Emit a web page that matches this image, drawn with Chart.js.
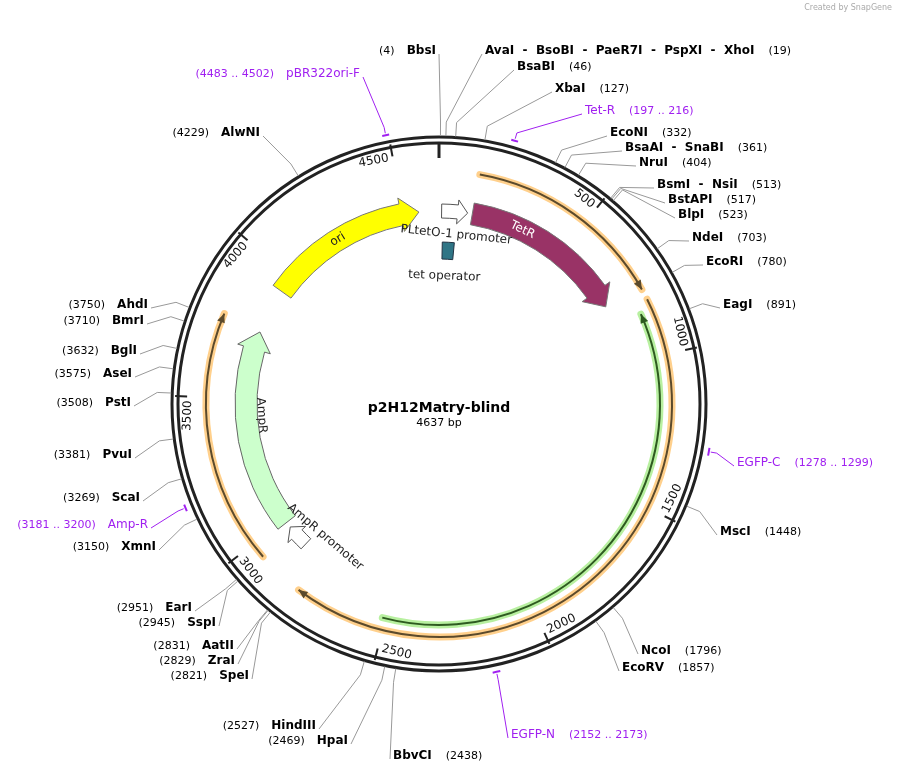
<!DOCTYPE html>
<html>
<head>
<meta charset="utf-8">
<script src="https://cdn.jsdelivr.net/npm/chart.js@4"></script>
<style>
  body { margin: 0; background: #fff; }
  #wrap { width: 897px; height: 775px; }
</style>
</head>
<body>
<div id="wrap"><canvas id="map" width="897" height="775"></canvas></div>
<script>
const plasmidName = "p2H12Matry-blind";
const plasmidLength = 4637;
const tickValues = [500, 1000, 1500, 2000, 2500, 3000, 3500, 4000, 4500];

// features: name, start, end, direction (1 cw, -1 ccw)
const featureNames = ["ori", "PLtetO-1 promoter", "TetR", "AmpR", "AmpR promoter"];
const featureStarts = [3936, 10, 128, 2990, 2880];
const featureEnds = [4560, 110, 770, 3760, 2968];
const featureDirs = [1, 1, 1, 1, 1];

const orfStarts = [130, 815, 2950];
const orfEnds = [780, 2796, 3772];
const orfDirs = [1, 1, 1];
const egfpStart = 850, egfpEnd = 2510;

const operatorStart = 15, operatorEnd = 70;

const enzymeNames = ["BbsI", "AvaI  -  BsoBI  -  PaeR7I  -  PspXI  -  XhoI", "BsaBI", "XbaI", "EcoNI",
  "BsaAI  -  SnaBI", "NruI", "BsmI  -  NsiI", "BstAPI", "BlpI", "NdeI", "EcoRI", "EagI", "MscI",
  "NcoI", "EcoRV", "BbvCI", "HindIII", "HpaI", "SpeI", "ZraI", "AatII", "SspI", "EarI", "XmnI",
  "ScaI", "PvuI", "PstI", "AseI", "BglI", "BmrI", "AhdI", "AlwNI"];
const enzymeSites = [4, 19, 46, 127, 332, 361, 404, 513, 517, 523, 703, 780, 891, 1448,
  1796, 1857, 2438, 2527, 2469, 2821, 2829, 2831, 2945, 2951, 3150,
  3269, 3381, 3508, 3575, 3632, 3710, 3750, 4229];

const primerNames = ["pBR322ori-F", "Tet-R", "EGFP-C", "EGFP-N", "Amp-R"];
const primerStarts = [4483, 197, 1278, 2152, 3181];
const primerEnds = [4502, 216, 1299, 2173, 3200];

// label layout: side ('R' = text starts at x, 'L' = text ends at x), x, y
const enzymeLabelSide = ["L", "R", "R", "R", "R", "R", "R", "R", "R", "R", "R", "R", "R", "R",
  "R", "R", "R", "L", "L", "L", "L", "L", "L", "L", "L", "L", "L", "L", "L", "L", "L", "L", "L"];
const enzymeLabelX = [436, 485, 517, 555, 610, 625, 639, 657, 668, 678, 692, 706, 723, 720,
  641, 622, 393, 316, 348, 249, 235, 234, 216, 192, 156, 140, 132, 131, 132, 137, 144, 148, 260];
const enzymeLabelY = [51, 51, 67, 89, 133, 148, 163, 185, 200, 215, 238, 262, 305, 532,
  651, 668, 756, 726, 741, 676, 661, 646, 623, 608, 547, 498, 455, 403, 374, 351, 321, 305, 133];
const primerLabelSide = ["L", "R", "R", "R", "L"];
const primerLabelX = [360, 585, 737, 511, 148];
const primerLabelY = [74, 111, 463, 735, 525];

const purple = "#a020f0";
const toRad = bp => bp / plasmidLength * Math.PI * 2;

const mapPlugin = {
  id: "plasmidMap",
  afterDraw(chart) {
    const ctx = chart.ctx;
    const xs = chart.scales.x, ys = chart.scales.y;
    const cx = xs.getPixelForValue(0), cy = ys.getPixelForValue(0);
    const unit = xs.getPixelForValue(1) - cx; // px per ring radius
    const R = px => px / 266 * unit;
    const pt = (bp, r) => {
      const t = toRad(bp);
      return [xs.getPixelForValue(r / unit * Math.sin(t)), ys.getPixelForValue(r / unit * Math.cos(t))];
    };
    const ca = bp => toRad(bp) - Math.PI / 2;

    ctx.save();
    ctx.lineCap = "butt";

    // backbone
    ctx.strokeStyle = "#222";
    ctx.lineWidth = 3;
    [R(267), R(261)].forEach(r => { ctx.beginPath(); ctx.arc(cx, cy, r, 0, Math.PI * 2); ctx.stroke(); });

    // ticks
    ctx.lineWidth = 3;
    let a = pt(0, R(262)), b = pt(0, R(246));
    ctx.beginPath(); ctx.moveTo(a[0], a[1]); ctx.lineTo(b[0], b[1]); ctx.stroke();
    ctx.lineWidth = 2;
    ctx.font = "12px 'DejaVu Sans'";
    ctx.fillStyle = "#111";
    tickValues.forEach(v => {
      const p1 = pt(v, R(264)), p2 = pt(v, R(252));
      ctx.beginPath(); ctx.moveTo(p1[0], p1[1]); ctx.lineTo(p2[0], p2[1]); ctx.stroke();
      const t = toRad(v);
      const flip = t > Math.PI / 2 && t < Math.PI * 1.5;
      const p = pt(v, R(257));
      ctx.save();
      ctx.translate(p[0], p[1]);
      ctx.rotate(flip ? t - Math.PI : t);
      ctx.textAlign = flip ? "left" : "right";
      ctx.textBaseline = flip ? "bottom" : "top";
      ctx.fillText(String(v), flip ? 4 : -4, 0);
      ctx.restore();
    });

    // arc arrow helper
    const arrow = (s, e, dir, rc, w, hw, hl, fill, stroke) => {
      const r1 = rc - w / 2, r2 = rc + w / 2;
      const dh = hl / rc / (Math.PI * 2) * plasmidLength;
      ctx.beginPath();
      if (dir > 0) {
        const hs = Math.max(s, e - dh);
        ctx.arc(cx, cy, r2, ca(s), ca(hs));
        let p = pt(hs, rc + hw / 2); ctx.lineTo(p[0], p[1]);
        p = pt(e, rc); ctx.lineTo(p[0], p[1]);
        p = pt(hs, rc - hw / 2); ctx.lineTo(p[0], p[1]);
        ctx.arc(cx, cy, r1, ca(hs), ca(s), true);
      } else {
        const hs = Math.min(e, s + dh);
        ctx.arc(cx, cy, r2, ca(e), ca(hs), true);
        let p = pt(hs, rc + hw / 2); ctx.lineTo(p[0], p[1]);
        p = pt(s, rc); ctx.lineTo(p[0], p[1]);
        p = pt(hs, rc - hw / 2); ctx.lineTo(p[0], p[1]);
        ctx.arc(cx, cy, r1, ca(hs), ca(e));
      }
      ctx.closePath();
      ctx.fillStyle = fill; ctx.fill();
      ctx.lineWidth = 1; ctx.strokeStyle = stroke; ctx.stroke();
    };

    const featureFill = ["#ffff00", "#ffffff", "#993366", "#ccffcc", "#ffffff"];
    const featureStroke = ["#777", "#555", "#777", "#666", "#555"];
    featureNames.forEach((n, i) => {
      const small = i === 1 || i === 4;
      arrow(featureStarts[i], featureEnds[i], featureDirs[i], R(193), R(small ? 14 : 22), R(small ? 24 : 34), R(small ? 10 : 18), featureFill[i], featureStroke[i]);
    });

    // tet operator
    ctx.beginPath();
    ctx.arc(cx, cy, R(162), ca(operatorStart), ca(operatorEnd));
    ctx.arc(cx, cy, R(145), ca(operatorEnd), ca(operatorStart), true);
    ctx.closePath();
    ctx.fillStyle = "#2f7586"; ctx.fill(); ctx.strokeStyle = "#234"; ctx.lineWidth = 1; ctx.stroke();

    // thin arcs (ORFs + EGFP)
    const thin = (s, e, dir, r, light, dark) => {
      ctx.lineCap = "round";
      ctx.strokeStyle = light; ctx.lineWidth = R(7);
      ctx.beginPath(); ctx.arc(cx, cy, r, ca(s), ca(e)); ctx.stroke();
      ctx.lineCap = "butt";
      ctx.strokeStyle = dark; ctx.lineWidth = 2;
      ctx.beginPath(); ctx.arc(cx, cy, r, ca(s), ca(e)); ctx.stroke();
      const tip = dir > 0 ? e : s;
      const back = tip - dir * (9 / r) / (Math.PI * 2) * plasmidLength;
      const p0 = pt(tip, r), p1 = pt(back, r + 4), p2 = pt(back, r - 4);
      ctx.fillStyle = dark;
      ctx.beginPath(); ctx.moveTo(p0[0], p0[1]); ctx.lineTo(p1[0], p1[1]); ctx.lineTo(p2[0], p2[1]); ctx.closePath(); ctx.fill();
    };
    orfStarts.forEach((s, i) => thin(s, orfEnds[i], orfDirs[i], R(233), "#ffd08c", "#5b4a2c"));
    thin(egfpStart, egfpEnd, -1, R(221), "#b8f0a0", "#2e5a20");

    // feature labels
    const arcText = (text, bp, r, rot, color, font) => {
      const p = pt(bp, r);
      ctx.save();
      ctx.translate(p[0], p[1]); ctx.rotate(rot);
      ctx.font = font; ctx.fillStyle = color;
      ctx.textAlign = "center"; ctx.textBaseline = "middle";
      ctx.fillText(text, 0, 0);
      ctx.restore();
    };
    arcText("ori", 4230, R(193), toRad(4230), "#222", "12px 'DejaVu Sans'");
    arcText("TetR", 330, R(193), toRad(330), "#fff", "12px 'DejaVu Sans'");
    arcText("AmpR", 3430, R(178), toRad(3430) - Math.PI, "#222", "12px 'DejaVu Sans'");
    arcText("PLtetO-1 promoter", 75, R(170), toRad(75), "#222", "12px 'DejaVu Sans'");
    arcText("tet operator", 30, R(128), toRad(30), "#222", "12px 'DejaVu Sans'");
    arcText("AmpR promoter", 2840, R(175), toRad(2840) - Math.PI, "#222", "12px 'DejaVu Sans'");

    // labels and leader lines
    const label = (main, num, side, x, y, bp1, bp2, color, bold) => {
      const mainFont = (bold ? "bold " : "") + "12px 'DejaVu Sans'";
      const numFont = "11px 'DejaVu Sans'";
      ctx.font = mainFont;
      const mw = ctx.measureText(main).width;
      ctx.textBaseline = "middle";
      let ax;
      if (side === "R") {
        ctx.fillStyle = color; ctx.textAlign = "left"; ctx.fillText(main, x, y);
        ctx.font = numFont; ctx.fillText(num, x + mw + 14, y);
        ax = x - 3;
      } else {
        ctx.fillStyle = color; ctx.textAlign = "right"; ctx.fillText(main, x, y);
        ctx.font = numFont; ctx.fillText(num, x - mw - 12, y);
        ax = x + 3;
      }
      const mid = (bp1 + bp2) / 2;
      const pIn = pt(mid, bold ? R(268) : R(276)), pOut = pt(mid, R(282));
      ctx.strokeStyle = bold ? "#999" : color; ctx.lineWidth = 1;
      ctx.beginPath(); ctx.moveTo(pIn[0], pIn[1]); ctx.lineTo(pOut[0], pOut[1]); ctx.lineTo(ax, y + 3); ctx.stroke();
    };
    enzymeNames.forEach((n, i) => label(n, "(" + enzymeSites[i] + ")", enzymeLabelSide[i], enzymeLabelX[i], enzymeLabelY[i], enzymeSites[i], enzymeSites[i], "#000", true));
    primerNames.forEach((n, i) => {
      ctx.strokeStyle = purple; ctx.lineWidth = 2;
      ctx.beginPath(); ctx.arc(cx, cy, R(274), ca(primerStarts[i]), ca(primerEnds[i])); ctx.stroke();
      label(n, "(" + primerStarts[i] + " .. " + primerEnds[i] + ")", primerLabelSide[i], primerLabelX[i], primerLabelY[i], primerStarts[i], primerEnds[i], purple, false);
    });

    // centre
    ctx.fillStyle = "#000"; ctx.textAlign = "center"; ctx.textBaseline = "middle";
    ctx.font = "bold 14px 'DejaVu Sans'";
    ctx.fillText(plasmidName, cx, cy + 4);
    ctx.font = "11px 'DejaVu Sans'";
    ctx.fillText(plasmidLength + " bp", cx, cy + 19);
    ctx.font = "8px 'DejaVu Sans'"; ctx.fillStyle = "#aaa"; ctx.textAlign = "right";
    ctx.fillText("Created by SnapGene", 892, 8);
    ctx.restore();
  }
};

new Chart(document.getElementById("map"), {
  type: "scatter",
  data: { datasets: [{ data: [], pointRadius: 0 }] },
  options: {
    responsive: false,
    animation: false,
    layout: { padding: 0 },
    plugins: { legend: { display: false }, tooltip: { enabled: false } },
    scales: {
      x: { display: false, min: -439 / 266, max: 458 / 266 },
      y: { display: false, min: -371 / 266, max: 404 / 266 }
    }
  },
  plugins: [mapPlugin]
});
</script>
</body>
</html>
